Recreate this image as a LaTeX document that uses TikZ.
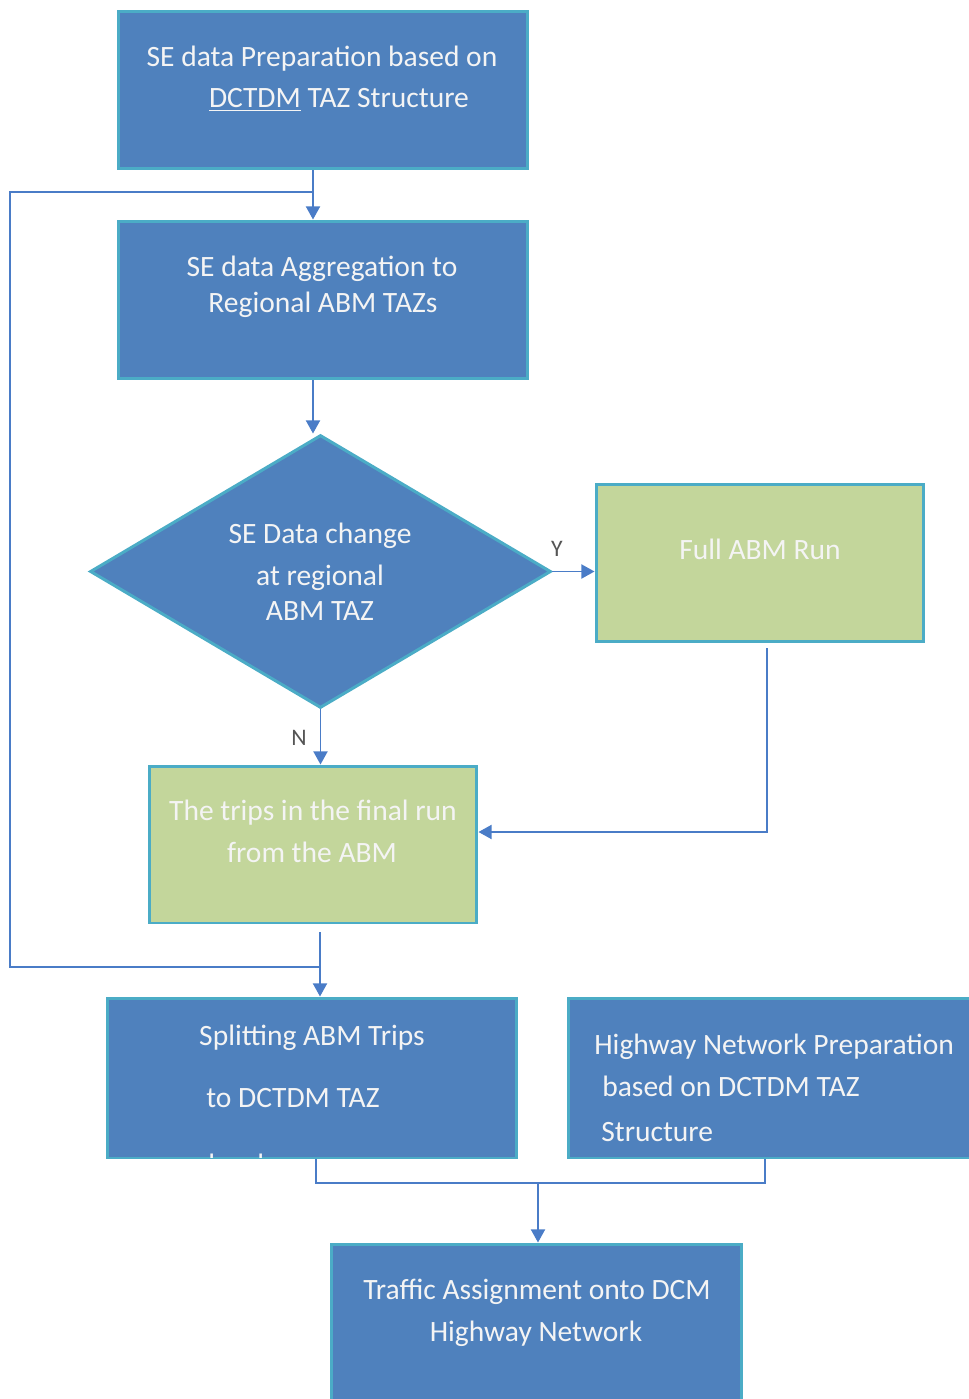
\documentclass[tikz,border=0pt]{standalone}
\usepackage{fontspec}
\setmainfont{Carlito}
\usetikzlibrary{shapes.geometric,arrows.meta}
\definecolor{boxblue}{HTML}{4F81BD}
\definecolor{boxgreen}{HTML}{C3D69B}
\definecolor{edgeteal}{HTML}{4BACC6}
\definecolor{linkblue}{HTML}{4A7CC7}
\definecolor{txtwhite}{HTML}{F4F4F4}
\definecolor{lblgray}{HTML}{555555}
\tikzset{
  box/.style={draw=edgeteal, line width=1.7pt, inner sep=0pt},
  bluebox/.style={box, fill=boxblue},
  greenbox/.style={box, fill=boxgreen},
  txt/.style={text=txtwhite, font=\fontsize{16.8}{20}\selectfont, anchor=base, inner sep=0pt},
  txtw/.style={txt, anchor=base west},
  lbl/.style={text=lblgray, font=\fontsize{13.5}{16}\selectfont, anchor=base, inner sep=0pt},
  link/.style={draw=linkblue, line width=1.1pt},
  arr/.style={link, -{Triangle[length=7.5pt,width=8pt]}},
}
\begin{document}
\begin{tikzpicture}[x=0.02cm,y=-0.02cm]
\useasboundingbox (0,0) rectangle (969,1399);
\clip (0,0) rectangle (969,1399);

% process boxes
\node[bluebox, minimum width=8.2cm, minimum height=3.16cm] (prep) at (323,90) {};
\node[bluebox, minimum width=8.2cm, minimum height=3.16cm] (agg) at (323,300) {};
\node[draw=edgeteal, line width=1.7pt, fill=boxblue, shape=diamond, inner sep=0pt,
      minimum width=9.22cm, minimum height=5.46cm] (dec) at (320.5,571.5) {};
\node[greenbox, minimum width=6.56cm, minimum height=3.16cm] (full) at (760,563) {};
\node[greenbox, minimum width=6.56cm, minimum height=3.14cm] (trips) at (313,844.5) {};
\node[bluebox, minimum width=8.2cm, minimum height=3.2cm] (split) at (312,1078) {};
\node[bluebox, minimum width=8.24cm, minimum height=3.2cm] (hwy) at (774,1078) {};
\node[bluebox, minimum width=8.22cm, minimum height=3.32cm] (assign) at (536.5,1327) {};

% box texts
\node[txt] (t1a) at (322,67) {SE data Preparation based on};
\node[txt] (t1b) at (339,108) {\underline{DCTDM} TAZ Structure};
\node[txt] (t2a) at (322,276) {SE data Aggregation to};
\node[txt] (t2b) at (323,312) {Regional ABM TAZs};
\node[txt] (t3a) at (320,543) {SE Data change};
\node[txt] (t3b) at (320,585) {at regional};
\node[txt] (t3c) at (320,620) {ABM TAZ};
\node[txt] (t4) at (760,559) {Full ABM Run};
\node[txt] (t5a) at (313,820) {The trips in the final run};
\node[txt] (t5b) at (312,862) {from the ABM};
\node[txt] (t6a) at (312,1045) {Splitting ABM Trips};
\node[txtw] (t6b) at (206,1107) {to DCTDM TAZ};
\begin{scope}
  \clip (split.south west) ++(0,-2) rectangle (split.north east);
  \node[txtw] (t6c) at (208,1174) {level};
\end{scope}
\node[txtw] (t7a) at (594,1054) {Highway Network Preparation};
\node[txtw] (t7b) at (602,1096) {based on DCTDM TAZ};
\node[txtw] (t7c) at (601,1141) {Structure};
\node[txt] (t8a) at (537,1299) {Traffic Assignment onto DCM};
\node[txt] (t8b) at (536,1341) {Highway Network};

% routing points
\coordinate (fork) at (313,192);
\coordinate (loopTop) at (10,192);
\coordinate (loopBot) at (10,967);
\coordinate (drop) at (320,932);
\coordinate (fullDown) at (767,648);
\coordinate (fullCorner) at (767,832);
\coordinate (mergeL) at (316,1183);
\coordinate (mergeR) at (765,1183);
\coordinate (mergeMid) at (538,1183);

% connectors
\draw[arr] (prep.south -| fork) -- (agg.north -| fork);
\draw[link] (fork) -- (loopTop) -- (loopBot) -- (loopBot -| drop);
\draw[arr] (drop) -- (split.north -| drop);
\draw[arr] (agg.south -| fork) -- (dec.north -| fork);
\draw[arr] (dec.east) -- (full.west |- dec.east);
\node[lbl] (ylab) at (557,556) {Y};
\draw[arr] (dec.south) -- (trips.north -| dec.south);
\node[lbl] (nlab) at (299,745) {N};
\draw[arr] (fullDown) -- (fullCorner) -- (trips.east |- fullCorner);
\draw[link, line width=1.4pt] (split.south -| mergeL) -- (mergeL) -- (mergeR) -- (hwy.south -| mergeR);
\draw[arr] (mergeMid) -- (assign.north -| mergeMid);
\end{tikzpicture}
\end{document}
